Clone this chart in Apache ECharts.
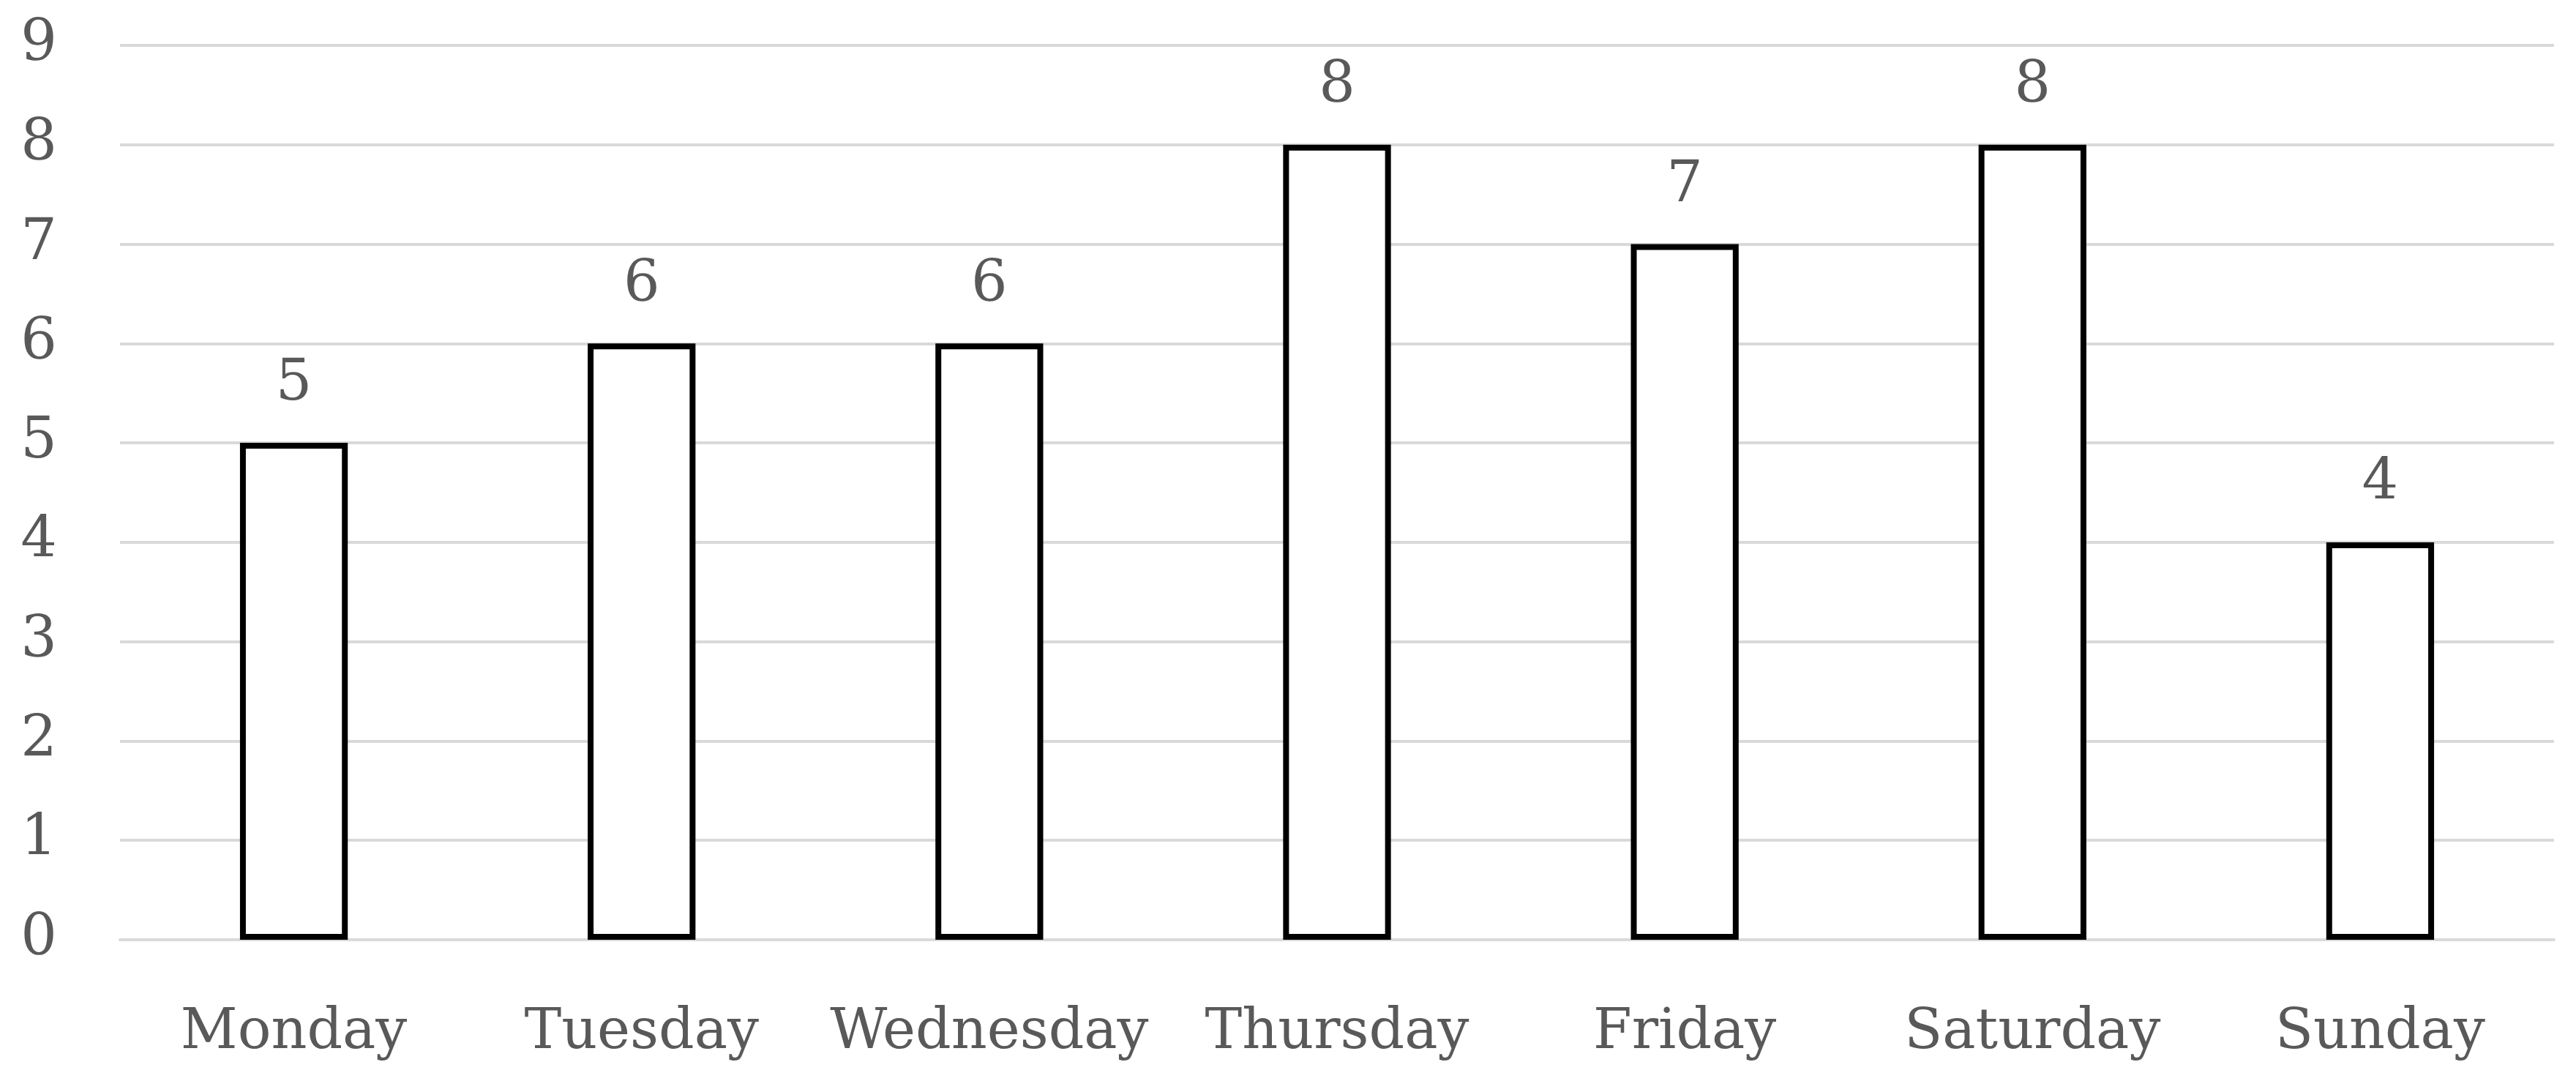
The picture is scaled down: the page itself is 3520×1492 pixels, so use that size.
<!DOCTYPE html>
<html>
<head>
<meta charset="utf-8">
<script src="https://cdn.jsdelivr.net/npm/echarts@6/dist/echarts.min.js"></script>
<style>
html, body { margin: 0; padding: 0; background: #fff; }
#chart { width: 3520px; height: 1492px; }
</style>
</head>
<body>
<div id="chart"></div>
<script>
var days = ['Monday', 'Tuesday', 'Wednesday', 'Thursday', 'Friday', 'Saturday', 'Sunday'];
var counts = [5, 6, 6, 8, 7, 8, 4];
var yTicks = { min: 0, max: 9, step: 1 };

var myChart = echarts.init(document.getElementById('chart'));

var option = {
    animation: false,
    grid: {
        left: 164,
        right: 30,
        top: 62,
        bottom: 208,
        containLabel: false
    },
    xAxis: {
        type: 'category',
        data: days,
        axisLine: {
            lineStyle: { color: '#d9d9d9', width: 4 }
        },
        axisTick: { show: false },
        axisLabel: {
            interval: 0,
            color: '#595959',
            fontFamily: 'DejaVu Serif',
            fontSize: 76,
            margin: 90
        }
    },
    yAxis: {
        type: 'value',
        min: yTicks.min,
        max: yTicks.max,
        interval: yTicks.step,
        axisLine: { show: false },
        axisTick: { show: false },
        splitLine: {
            lineStyle: { color: '#d9d9d9', width: 4 }
        },
        axisLabel: {
            color: '#595959',
            fontFamily: 'DejaVu Serif',
            fontSize: 78,
            margin: 86
        }
    },
    series: [
        {
            type: 'bar',
            data: counts,
            barWidth: '31%',
            itemStyle: {
                color: '#ffffff',
                borderColor: '#000000',
                borderWidth: 8
            },
            label: {
                show: true,
                position: 'top',
                distance: 40,
                color: '#595959',
                fontFamily: 'DejaVu Serif',
                fontSize: 78
            }
        }
    ]
};

myChart.setOption(option);
</script>
</body>
</html>
